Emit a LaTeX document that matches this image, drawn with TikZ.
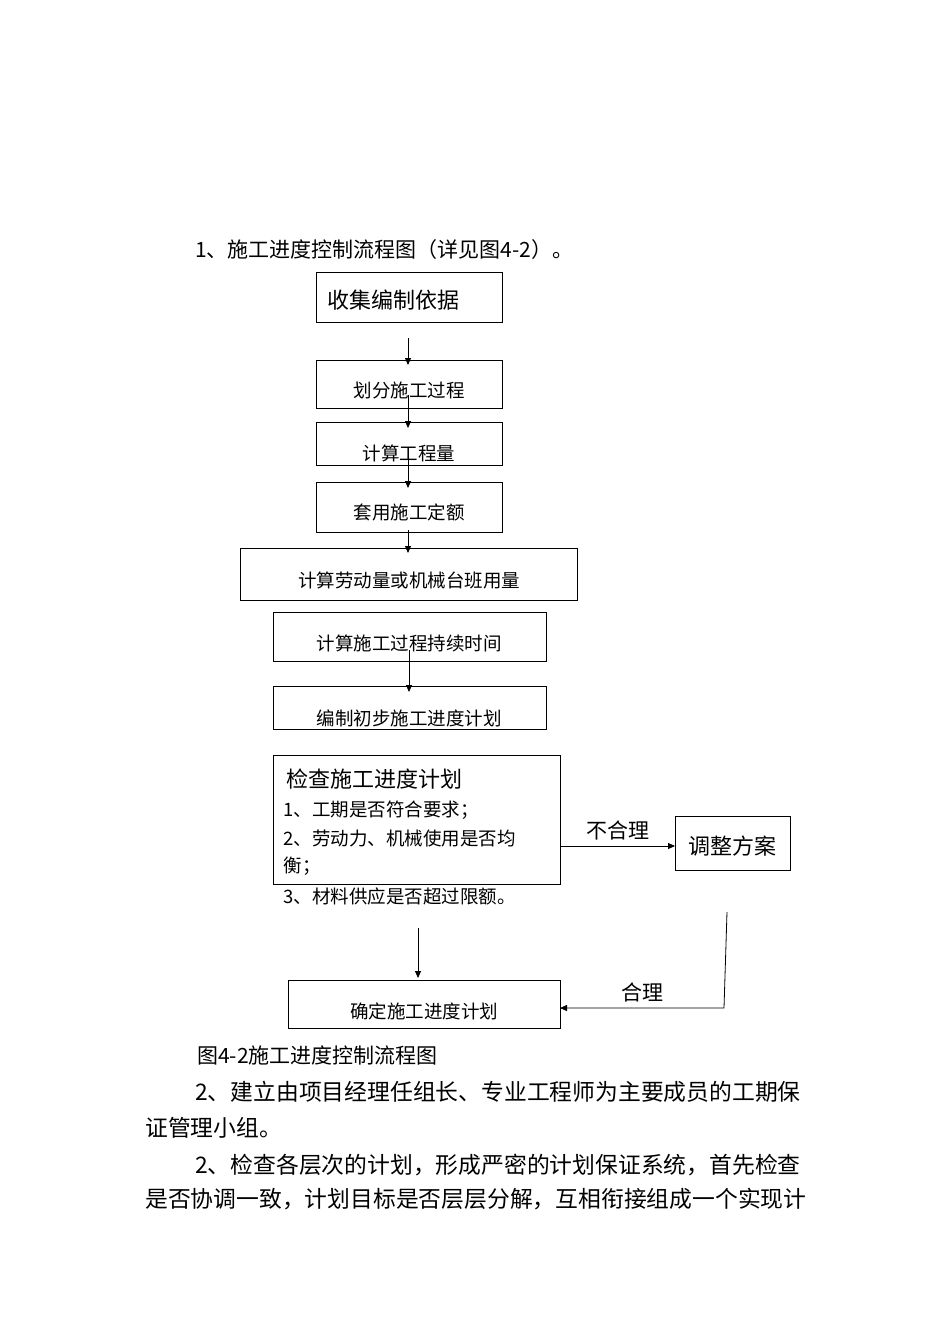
\documentclass[tikz,border=0pt]{standalone}
\usepackage{fontspec}
\setmainfont{Noto Sans CJK SC}
\usetikzlibrary{arrows.meta}
\begin{document}
\begin{tikzpicture}[x=1pt,y=-1pt,
  box/.style={draw,line width=0.8pt,inner sep=0},
  arr/.style={-{Triangle[length=7pt,width=6pt]},line width=0.8pt},
  t/.style={font=\fontsize{18.5}{20}\selectfont},
  para/.style={anchor=west,inner sep=0,font=\fontsize{21}{24}\selectfont},
  parb/.style={anchor=west,inner sep=0,font=\fontsize{22.8}{24}\selectfont}]
\useasboundingbox (0,0) rectangle (950,1344);
\node[para] (h1) at (195,250) {1、施工进度控制流程图（详见图4-2）。};
\draw[box] (316,272) rectangle (502,322);
\node[anchor=west,font=\fontsize{22}{24}\selectfont] (a) at (324,300) {收集编制依据};
\draw[box] (316,360) rectangle (502,408); \node[t] (b) at (409,390) {划分施工过程};
\draw[box] (316,422) rectangle (502,465); \node[t] (c) at (409,453) {计算工程量};
\draw[box] (316,482) rectangle (502,532); \node[t] (d) at (409,512) {套用施工定额};
\draw[box] (240,548) rectangle (577,600); \node[t] (e) at (409,580) {计算劳动量或机械台班用量};
\draw[box] (273,612) rectangle (546,661); \node[t] (f) at (409,643) {计算施工过程持续时间};
\draw[box] (273,686) rectangle (546,729); \node[t] (g) at (409,718) {编制初步施工进度计划};
\coordinate (a1) at (408,338); \coordinate (a2) at (408,365);
\draw[arr] (a1) -- (a2);
\coordinate (b1) at (408,395); \coordinate (b2) at (408,428); \draw[arr] (b1) -- (b2);
\coordinate (c1) at (408,458); \coordinate (c2) at (408,488); \draw[arr] (c1) -- (c2);
\coordinate (d1) at (408,530); \coordinate (d2) at (408,553); \draw[arr] (d1) -- (d2);
\coordinate (f1) at (409,650); \coordinate (f2) at (409,692); \draw[arr] (f1) -- (f2);
\draw[box] (273,755) rectangle (560,884);
\node[anchor=west,font=\fontsize{22}{24}\selectfont] (h) at (283,779) {检查施工进度计划};
\node[anchor=west,t] (h2) at (280,810) {1、工期是否符合要求；};
\node[anchor=west,t] (h3) at (280,838) {2、劳动力、机械使用是否均};
\node[anchor=west,t] (h4) at (280,866) {衡；};
\node[anchor=west,t] (h5) at (280,896) {3、材料供应是否超过限额。};
\draw[box] (675,816) rectangle (790,870);
\node[font=\fontsize{22}{24}\selectfont] (k) at (732,846) {调整方案};
\coordinate (k1) at (560,846); \coordinate (k2) at (675,846);
\draw[arr] (k1) -- node[above=2pt,font=\fontsize{21}{22}\selectfont]{不合理} (k2);
\coordinate (m1) at (418,928); \coordinate (m2) at (418,978); \draw[arr] (m1) -- (m2);
\draw[box] (288,980) rectangle (560,1028);
\node[t] (q) at (424,1011) {确定施工进度计划};
\coordinate (r1) at (727,912); \coordinate (r2) at (724,1008); \coordinate (r3) at (560,1008);
\draw[arr] (r1) -- (r2) -- node[above=2pt,font=\fontsize{21}{22}\selectfont]{合理} (r3);
\node[para] (cap) at (197,1055) {图4-2施工进度控制流程图};
\node[parb] (p1) at (195,1092) {2、建立由项目经理任组长、专业工程师为主要成员的工期保};
\node[parb] (p2) at (145,1128) {证管理小组。};
\node[parb] (p3) at (195,1165) {2、检查各层次的计划，形成严密的计划保证系统，首先检查};
\node[parb] (p4) at (145,1199) {是否协调一致，计划目标是否层层分解，互相衔接组成一个实现计};
\end{tikzpicture}
\end{document}
